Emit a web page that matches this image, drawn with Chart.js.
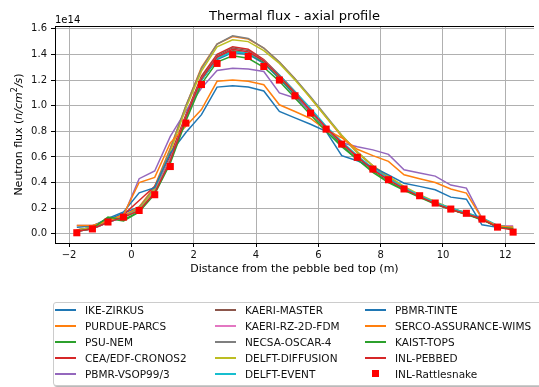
<!DOCTYPE html>
<html>
<head>
<meta charset="utf-8">
<script src="https://cdn.jsdelivr.net/npm/chart.js@4"></script>
<style>
  html, body { margin: 0; padding: 0; background: #fff; overflow: hidden; }
  #wrap { position: relative; width: 539px; height: 387px; overflow: hidden; }
  #grafico { position: absolute; left: 0; top: 0; }
  #legenda {
    position: absolute; left: 53px; top: 302px; width: 530px; height: 82px;
    border: 1px solid #cccccc; border-radius: 3px; background: #fff;
    box-shadow: 1px 1px 1px rgba(0,0,0,0.3);
    font-family: "DejaVu Sans"; font-size: 10.5px; color: #111;
  }
  .item { position: absolute; height: 16px; line-height: 16px; white-space: nowrap; }
  .item .h { position: absolute; left: 0; top: 7px; width: 21px; height: 1.5px; }
  .item .m { position: absolute; left: 7px; top: 4px; width: 7px; height: 7px; }
  .item .t { position: absolute; left: 30px; top: 0; }
</style>
</head>
<body>
<div id="wrap">
  <canvas id="grafico" width="539" height="387"></canvas>
  <div id="legenda"></div>
</div>
<script>
// axial positions (m) and flux values in units of 1e14 n/cm2/s
const X = [-1.75, -1.25, -0.75, -0.25, 0.25, 0.75, 1.25, 1.75, 2.25, 2.75, 3.25, 3.75, 4.25, 4.75,
  5.25, 5.75, 6.25, 6.75, 7.25, 7.75, 8.25, 8.75, 9.25, 9.75, 10.25, 10.75, 11.25, 11.75, 12.25];

const IKE_ZIRKUS = [0.03, 0.05, 0.11, 0.16, 0.21, 0.34, 0.58, 0.90, 1.20, 1.36, 1.415, 1.40, 1.33, 1.21,
  1.08, 0.95, 0.82, 0.70, 0.60, 0.51, 0.43, 0.36, 0.30, 0.245, 0.20, 0.16, 0.115, 0.06, 0.04];
const PURDUE_PARCS = [0.03, 0.05, 0.10, 0.14, 0.21, 0.37, 0.67, 1.00, 1.30, 1.48, 1.54, 1.52, 1.45, 1.34,
  1.21, 1.06, 0.91, 0.76, 0.63, 0.53, 0.44, 0.36, 0.30, 0.245, 0.20, 0.16, 0.12, 0.06, 0.04];
const PSU_NEM = [0.02, 0.05, 0.12, 0.10, 0.17, 0.33, 0.58, 0.90, 1.20, 1.37, 1.43, 1.41, 1.34, 1.22,
  1.09, 0.95, 0.82, 0.69, 0.58, 0.49, 0.41, 0.345, 0.29, 0.235, 0.19, 0.155, 0.11, 0.055, 0.04];
const CEA_CRONOS2 = [0.02, 0.04, 0.09, 0.15, 0.26, 0.37, 0.61, 0.93, 1.23, 1.40, 1.46, 1.44, 1.36, 1.24,
  1.11, 0.97, 0.83, 0.71, 0.60, 0.50, 0.42, 0.35, 0.29, 0.24, 0.19, 0.155, 0.115, 0.055, 0.04];
const PBMR_VSOP = [0.065, 0.065, 0.10, 0.14, 0.43, 0.49, 0.76, 0.96, 1.137, 1.275, 1.293, 1.286, 1.267, 1.10,
  1.06, 0.96, 0.82, 0.71, 0.68, 0.655, 0.62, 0.50, 0.475, 0.45, 0.38, 0.357, 0.12, 0.06, 0.06];
const KAERI_MASTER = [0.02, 0.04, 0.09, 0.13, 0.19, 0.33, 0.58, 0.92, 1.22, 1.39, 1.45, 1.43, 1.35, 1.23,
  1.10, 0.96, 0.83, 0.71, 0.60, 0.50, 0.42, 0.35, 0.29, 0.235, 0.19, 0.155, 0.115, 0.055, 0.045];
const KAERI_RZ = [0.02, 0.04, 0.09, 0.13, 0.19, 0.33, 0.58, 0.91, 1.21, 1.38, 1.44, 1.42, 1.35, 1.23,
  1.10, 0.96, 0.83, 0.71, 0.60, 0.50, 0.42, 0.35, 0.29, 0.235, 0.19, 0.155, 0.115, 0.06, 0.06];
const NECSA_OSCAR = [0.03, 0.05, 0.10, 0.13, 0.20, 0.36, 0.66, 1.00, 1.29, 1.48, 1.545, 1.525, 1.45, 1.34,
  1.21, 1.07, 0.92, 0.77, 0.64, 0.53, 0.44, 0.36, 0.30, 0.245, 0.20, 0.16, 0.12, 0.06, 0.05];
const DELFT_DIFFUSION = [0.03, 0.05, 0.10, 0.13, 0.19, 0.35, 0.64, 0.98, 1.27, 1.46, 1.515, 1.50, 1.43, 1.33,
  1.20, 1.06, 0.91, 0.77, 0.64, 0.53, 0.45, 0.37, 0.305, 0.25, 0.20, 0.165, 0.12, 0.06, 0.05];
const DELFT_EVENT = [0.02, 0.04, 0.09, 0.13, 0.18, 0.32, 0.57, 0.90, 1.20, 1.37, 1.42, 1.41, 1.35, 1.24,
  1.11, 0.98, 0.84, 0.72, 0.61, 0.51, 0.43, 0.36, 0.30, 0.245, 0.20, 0.165, 0.125, 0.065, 0.05];
const PBMR_TINTE = [0.05, 0.06, 0.12, 0.17, 0.32, 0.36, 0.63, 0.79, 0.93, 1.145, 1.155, 1.145, 1.115, 0.955,
  0.905, 0.855, 0.80, 0.61, 0.57, 0.52, 0.46, 0.395, 0.37, 0.343, 0.286, 0.27, 0.07, 0.05, 0.045];
const SERCO_WIMS = [0.065, 0.065, 0.10, 0.15, 0.40, 0.44, 0.71, 0.84, 0.97, 1.19, 1.20, 1.19, 1.163, 1.007,
  0.955, 0.90, 0.81, 0.75, 0.66, 0.61, 0.565, 0.46, 0.43, 0.40, 0.35, 0.318, 0.12, 0.06, 0.05];
const KAIST_TOPS = [0.02, 0.04, 0.13, 0.11, 0.17, 0.31, 0.55, 0.88, 1.17, 1.34, 1.39, 1.37, 1.30, 1.19,
  1.06, 0.93, 0.80, 0.68, 0.58, 0.48, 0.40, 0.34, 0.285, 0.23, 0.19, 0.15, 0.11, 0.05, 0.04];
const INL_PEBBED = [0.02, 0.04, 0.09, 0.13, 0.18, 0.32, 0.57, 0.91, 1.21, 1.38, 1.44, 1.42, 1.35, 1.23,
  1.10, 0.96, 0.83, 0.71, 0.60, 0.50, 0.42, 0.35, 0.29, 0.235, 0.19, 0.155, 0.115, 0.05, 0.03];
const INL_RATTLESNAKE = [0.008, 0.038, 0.092, 0.130, 0.182, 0.305, 0.525, 0.864, 1.165, 1.330, 1.398, 1.384, 1.306, 1.200,
  1.077, 0.942, 0.817, 0.700, 0.597, 0.505, 0.422, 0.350, 0.297, 0.240, 0.193, 0.160, 0.115, 0.052, 0.013];

const SERIES = [
  ["IKE-ZIRKUS", IKE_ZIRKUS], ["PURDUE-PARCS", PURDUE_PARCS], ["PSU-NEM", PSU_NEM],
  ["CEA/EDF-CRONOS2", CEA_CRONOS2], ["PBMR-VSOP99/3", PBMR_VSOP], ["KAERI-MASTER", KAERI_MASTER],
  ["KAERI-RZ-2D-FDM", KAERI_RZ], ["NECSA-OSCAR-4", NECSA_OSCAR], ["DELFT-DIFFUSION", DELFT_DIFFUSION],
  ["DELFT-EVENT", DELFT_EVENT], ["PBMR-TINTE", PBMR_TINTE], ["SERCO-ASSURANCE-WIMS", SERCO_WIMS],
  ["KAIST-TOPS", KAIST_TOPS], ["INL-PEBBED", INL_PEBBED],
];
const MARCADOR = ["INL-Rattlesnake", INL_RATTLESNAKE];

const CORES = ["#1f77b4", "#ff7f0e", "#2ca02c", "#d62728", "#9467bd", "#8c564b", "#e377c2",
  "#7f7f7f", "#bcbd22", "#17becf"];
const COR_MARCADOR = "#ff0000";

const TITULO = "Thermal flux - axial profile";
const ROTULO_X = "Distance from the pebble bed top (m)";
const ESCALA_Y = "1e14";
const FONTE = '"DejaVu Sans"';

function pontos(vals) {
  return vals.map((v, i) => ({ x: X[i], y: v }));
}
function fmtTick(v, casas) {
  const s = Math.abs(v).toFixed(casas);
  return v < 0 ? "\u2212" + s : s;
}

const N = SERIES.length + 1;
const datasets = SERIES.map(([nome, vals], i) => ({
  label: nome,
  data: pontos(vals),
  borderColor: CORES[i % CORES.length],
  backgroundColor: CORES[i % CORES.length],
  borderWidth: 1.5,
  pointRadius: 0,
  tension: 0,
  order: N - i,
}));
datasets.push({
  label: MARCADOR[0],
  data: pontos(MARCADOR[1]),
  showLine: false,
  pointStyle: "rect",
  pointRadius: 5,
  pointBorderWidth: 0,
  backgroundColor: COR_MARCADOR,
  borderColor: COR_MARCADOR,
  order: 0,
});
const LEGENDA = datasets.map(d => ({ nome: d.label, cor: d.borderColor, marcador: d.showLine === false }));

const textos = {
  id: "textos",
  afterDraw(chart) {
    const { ctx, chartArea: a } = chart;
    ctx.save();
    ctx.strokeStyle = "#000";
    ctx.lineWidth = 1;
    ctx.beginPath();
    ctx.moveTo(a.left, a.top + 0.5);
    ctx.lineTo(a.right, a.top + 0.5);
    ctx.stroke();

    ctx.fillStyle = "#000";
    ctx.textBaseline = "alphabetic";
    ctx.textAlign = "center";
    ctx.font = "13px " + FONTE;
    ctx.fillText(TITULO, (a.left + a.right) / 2, 20);
    ctx.font = "11px " + FONTE;
    ctx.fillText(ROTULO_X, (a.left + a.right) / 2, 272);
    ctx.textAlign = "left";
    ctx.font = "10px " + FONTE;
    ctx.fillText(ESCALA_Y, a.left, 23);

    // y label with math part
    const partes = [
      ["Neutron flux (", "11px " + FONTE, 0],
      ["n/cm", "italic 11px " + FONTE, 0],
      ["2", "8px " + FONTE, -4],
      ["/s", "italic 11px " + FONTE, 0],
      [")", "11px " + FONTE, 0],
    ];
    let total = 0;
    partes.forEach(p => { ctx.font = p[1]; total += ctx.measureText(p[0]).width; });
    ctx.translate(19, (a.top + a.bottom) / 2);
    ctx.rotate(-Math.PI / 2);
    ctx.textBaseline = "middle";
    let x = -total / 2;
    partes.forEach(p => {
      ctx.font = p[1];
      ctx.fillText(p[0], x, p[2]);
      x += ctx.measureText(p[0]).width;
    });
    ctx.restore();
  },
};

const eixo = {
  type: "linear",
  grid: { color: "#b0b0b0", lineWidth: 1, tickColor: "#000", tickLength: 4, drawTicks: true },
  border: { display: true, color: "#000", width: 1 },
};

const chart = new Chart(document.getElementById("grafico"), {
  type: "line",
  data: { datasets },
  plugins: [textos],
  options: {
    responsive: false,
    animation: false,
    devicePixelRatio: 1,
    layout: { padding: { top: 26, right: 0, left: 0, bottom: 0 } },
    plugins: { legend: { display: false }, tooltip: { enabled: false }, title: { display: false } },
    scales: {
      x: {
        ...eixo,
        min: -2.45, max: 12.92,
        ticks: { stepSize: 2, includeBounds: false, padding: 2, color: "#111",
          font: { family: "DejaVu Sans", size: 10 }, maxRotation: 0, callback: v => fmtTick(v, 0) },
        afterFit: s => { s.height = 387 - 243; },
      },
      y: {
        ...eixo,
        min: -0.072, max: 1.622,
        ticks: { stepSize: 0.2, includeBounds: false, padding: 4, color: "#111",
          font: { family: "DejaVu Sans", size: 10 }, callback: v => fmtTick(v, 1) },
        afterFit: s => { s.width = 55; },
      },
    },
  },
});

// legend, three columns filled top to bottom
function montarLegenda() {
  const box = document.getElementById("legenda");
  const colX = [1, 161, 311];
  LEGENDA.forEach((d, i) => {
    const col = Math.floor(i / 5), lin = i % 5;
    const el = document.createElement("div");
    el.className = "item";
    el.style.left = colX[col] + "px";
    el.style.top = (-1 + lin * 16) + "px";
    const h = document.createElement("span");
    h.className = d.marcador ? "m" : "h";
    h.style.backgroundColor = d.cor;
    const t = document.createElement("span");
    t.className = "t";
    t.textContent = d.nome;
    el.appendChild(h);
    el.appendChild(t);
    box.appendChild(el);
  });
}
montarLegenda();
</script>
</body>
</html>
